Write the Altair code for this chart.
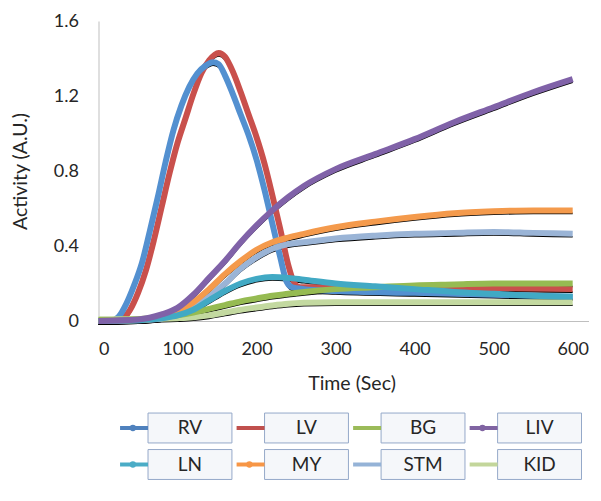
import altair as alt
import pandas as pd

# ---- data ----
series_names = ["RV", "LV", "BG", "LIV", "LN", "MY", "STM", "KID"]
series_colors = ["#5390d0", "#c9504c", "#96bb52", "#8062a8", "#41a9c4", "#f49a4c", "#9ab4d6", "#c3d9a0"]
legend_colors = ["#4f81bd", "#c0504d", "#9bbb59", "#8064a2", "#4bacc6", "#f79646", "#95b3d7", "#c3d69b"]
draw_order = ["LV", "RV", "KID", "BG", "STM", "MY", "LN", "LIV"]

rv_t = [0, 15, 25, 35, 45, 55, 65, 75, 85, 95, 105, 115, 125, 135, 145, 152, 160, 170, 180, 190,
        200, 210, 220, 230, 238, 245, 260, 300, 400, 500, 600]
rv_v = [0, 0, 0.02, 0.09, 0.19, 0.31, 0.48, 0.66, 0.85, 1.02, 1.15, 1.25, 1.32, 1.36, 1.38, 1.37,
        1.31, 1.21, 1.10, 0.99, 0.86, 0.70, 0.52, 0.34, 0.21, 0.18, 0.17, 0.16, 0.15, 0.14, 0.13]

lv_t = [0, 25, 30, 40, 50, 60, 70, 80, 90, 100, 110, 120, 130, 140, 152, 160, 170, 180, 190, 200,
        210, 220, 230, 240, 248, 255, 300, 400, 500, 600]
lv_v = [0, 0, 0.01, 0.06, 0.15, 0.27, 0.43, 0.61, 0.79, 0.95, 1.08, 1.21, 1.32, 1.39, 1.43, 1.41,
        1.33, 1.22, 1.10, 0.98, 0.84, 0.67, 0.49, 0.30, 0.20, 0.18, 0.18, 0.18, 0.175, 0.17]

grid_t = [0, 50, 80, 100, 120, 140, 160, 180, 200, 220, 240, 260, 300, 350, 400, 450, 500, 550, 600]
liv_v = [0, 0.008, 0.035, 0.07, 0.14, 0.23, 0.32, 0.42, 0.51, 0.59, 0.66, 0.72, 0.81, 0.89, 0.97,
         1.06, 1.14, 1.22, 1.29]
my_v = [0, 0.005, 0.02, 0.05, 0.10, 0.17, 0.25, 0.32, 0.38, 0.42, 0.445, 0.465, 0.50, 0.53, 0.555,
        0.575, 0.585, 0.59, 0.59]
stm_v = [0, 0.004, 0.015, 0.035, 0.075, 0.13, 0.20, 0.28, 0.34, 0.385, 0.41, 0.42, 0.44, 0.455,
         0.465, 0.47, 0.475, 0.47, 0.465]
ln_v = [0, 0.004, 0.015, 0.03, 0.06, 0.11, 0.16, 0.20, 0.225, 0.235, 0.23, 0.22, 0.20, 0.185, 0.17,
        0.155, 0.145, 0.135, 0.13]
bg_v = [0.005, 0.01, 0.02, 0.03, 0.045, 0.065, 0.085, 0.105, 0.12, 0.135, 0.145, 0.155, 0.17, 0.18,
        0.19, 0.195, 0.20, 0.20, 0.20]
kid_v = [0.01, 0.01, 0.012, 0.015, 0.02, 0.03, 0.045, 0.06, 0.072, 0.083, 0.092, 0.097, 0.10, 0.10,
         0.10, 0.10, 0.10, 0.10, 0.10]

x_ticks = [0, 100, 200, 300, 400, 500, 600]
y_ticks = [0, 0.4, 0.8, 1.2, 1.6]

legend_col = [0, 1, 2, 3, 0, 1, 2, 3]
legend_row = [0, 0, 0, 0, 1, 1, 1, 1]
legend_marker = [True, False, False, True, True, True, False, False]

# ---- build table ----
series_data = {
    "RV": (rv_t, rv_v), "LV": (lv_t, lv_v), "BG": (grid_t, bg_v), "LIV": (grid_t, liv_v),
    "LN": (grid_t, ln_v), "MY": (grid_t, my_v), "STM": (grid_t, stm_v), "KID": (grid_t, kid_v),
}
rows = []
for name in draw_order:
    ts, vs = series_data[name]
    for t, v in zip(ts, vs):
        rows.append({"series": name, "time": t, "value": v})
df = pd.DataFrame(rows)

leg = pd.DataFrame({"series": series_names, "col": legend_col, "row": legend_row,
                    "marker": legend_marker})

FONT = "Lato"
TXT = "#262626"

color_scale = alt.Scale(domain=series_names, range=series_colors)
xs = alt.Scale(domain=[0, 620], nice=False, zero=False)
ys = alt.Scale(domain=[0, 1.6], nice=False)

base = alt.Chart(df)

fit = base.mark_line(color="black", strokeWidth=1.6, yOffset=3, interpolate="monotone").encode(
    x=alt.X("time:Q", scale=xs),
    y=alt.Y("value:Q", scale=ys),
    detail="series:N",
)

lines = base.mark_line(strokeWidth=6, interpolate="monotone").encode(
    x=alt.X("time:Q", scale=xs,
            axis=alt.Axis(values=x_ticks, format="d", title="Time (Sec)",
                          titleX=253, titleY=62, titleBaseline="middle",
                          titleFontSize=19.5, labelPadding=19)),
    y=alt.Y("value:Q", scale=ys,
            axis=alt.Axis(values=y_ticks, title="Activity (A.U.)",
                          labelExpr="datum.value == 0 ? '0' : format(datum.value, '.1f')",
                          titleX=-78, titleY=150, titleBaseline="middle",
                          titleFontSize=19.5, labelPadding=20)),
    color=alt.Color("series:N", scale=color_scale, legend=None),
)

main = alt.layer(fit, lines)

# ---- custom boxed legend ----
lx = alt.Scale(domain=[-0.785, 3.42], range=[0, 490], nice=False, zero=False)
ly = alt.Scale(domain=[0, 1], range=[407, 443.5], nice=False, zero=False)
lbase = alt.Chart(leg).transform_calculate(
    bx1="datum.col - 0.36", bx2="datum.col + 0.36",
    by1="datum.row - 0.41", by2="datum.row + 0.41",
    sx1="datum.col - 0.6", sx2="datum.col - 0.36", sm="datum.col - 0.49",
)
leg_color = alt.Color("series:N", scale=alt.Scale(domain=series_names, range=legend_colors), legend=None)

boxes = lbase.mark_rect(fill="#f5f7fa", stroke="#95a9c9", strokeWidth=1).encode(
    x=alt.X("bx1:Q", scale=lx, axis=None), x2="bx2:Q",
    y=alt.Y("by1:Q", scale=ly, axis=None), y2="by2:Q",
)
labels = lbase.mark_text(font=FONT, fontSize=19, color=TXT, baseline="middle", align="center").encode(
    x=alt.X("col:Q", scale=lx, axis=None),
    y=alt.Y("row:Q", scale=ly, axis=None),
    text="series:N",
)
syms = lbase.mark_rule(strokeWidth=4).encode(
    x=alt.X("sx1:Q", scale=lx, axis=None), x2="sx2:Q",
    y=alt.Y("row:Q", scale=ly, axis=None),
    color=leg_color,
)
dots = lbase.transform_filter("datum.marker").mark_point(filled=True, size=40, opacity=1).encode(
    x=alt.X("sm:Q", scale=lx, axis=None),
    y=alt.Y("row:Q", scale=ly, axis=None),
    color=leg_color,
)
legend = alt.layer(boxes, syms, dots, labels)

chart = alt.layer(main, legend).resolve_scale(
    x="independent", y="independent", color="independent"
).properties(
    width=490, height=300,
    autosize=alt.AutoSizeParams(type="none"),
    padding={"left": 90.5, "top": 13, "right": 0, "bottom": 162},
).configure_view(stroke=None).configure_axis(
    grid=False, ticks=False, tickSize=0, domainColor="#bfbfbf", domainWidth=1,
    labelFont=FONT, labelFontSize=18, labelColor=TXT,
    titleFont=FONT, titleFontSize=19.5, titleFontWeight="normal", titleColor=TXT,
)

chart.save("out.html", embed_options={"renderer": "svg", "actions": False})
